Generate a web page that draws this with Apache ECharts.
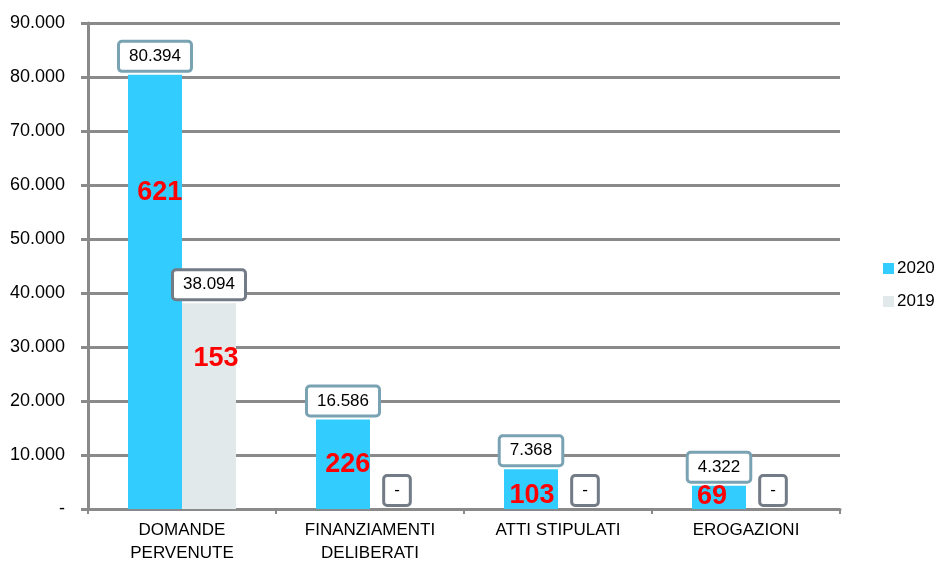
<!DOCTYPE html>
<html><head><meta charset="utf-8">
<script src="https://cdn.jsdelivr.net/npm/echarts@6/dist/echarts.min.js"></script>
<style>html,body{margin:0;padding:0;background:#fff}#c{width:937px;height:565px}</style>
</head><body><div id="c"></div>
<script>
// ---- data ----
const categories = ['DOMANDE\nPERVENUTE', 'FINANZIAMENTI\nDELIBERATI', 'ATTI STIPULATI', 'EROGAZIONI'];
const series2020 = [80394, 16586, 7368, 4322];
const series2019 = [38094, 0, 0, 0];
const counts2020 = [621, 226, 103, 69];
const counts2019 = [153, null, null, null];
const yTickLabels = ['-', '10.000', '20.000', '30.000', '40.000', '50.000', '60.000', '70.000', '80.000', '90.000'];
const legendNames = ['2020', '2019'];

// ---- styles ----
const FONT = '"Liberation Sans", Arial, sans-serif';
const C2020 = '#33CCFF', C2019 = '#E1E9EB';
const BORDER2020 = '#79A3B3', BORDER2019 = '#737B86';
const redPos2020 = [['59%', '27%'], ['59%', '50%'], ['52%', '65%'], ['37%', '45%']];
const redPos2019 = [['63%', '27%'], null, null, null];

function fmt(v) { return v === 0 ? '-' : String(v).replace(/\B(?=(\d{3})+(?!\d))/g, '.'); }

function boxLabel(border) {
  return {
    show: true, position: 'top', distance: 5,
    formatter: p => fmt(p.value),
    fontFamily: FONT, fontSize: 17, color: '#000', lineHeight: 19,
    backgroundColor: '#fff', borderColor: border, borderWidth: 3, borderRadius: 2,
    padding: [4, 9]
  };
}
function redData(vals, counts, pos) {
  return vals.map((v, i) => ({
    value: v,
    label: counts[i] == null ? { show: false } : {
      show: true, position: pos[i], align: 'center', verticalAlign: 'middle',
      formatter: String(counts[i]), color: '#FF0000', fontWeight: 'bold',
      fontSize: 27, fontFamily: FONT
    }
  }));
}

const chart = echarts.init(document.getElementById('c'), null, { renderer: 'canvas' });
chart.setOption({
  animation: false,
  backgroundColor: '#fff',
  grid: { left: 88, right: 97, top: 23, bottom: 49, containLabel: false },
  legend: {
    data: legendNames, orient: 'vertical', left: 883, top: 260, padding: 0,
    itemWidth: 11, itemHeight: 11, itemGap: 16, icon: 'rect',
    textStyle: { fontFamily: FONT, fontSize: 17, color: '#000', padding: [0, 0, 0, -2] }
  },
  xAxis: [{
    type: 'category', data: categories,
    axisLine: { lineStyle: { color: '#8A8A8A', width: 3 } },
    axisTick: { show: true, length: 5, lineStyle: { color: '#8A8A8A', width: 2 } },
    axisLabel: { fontFamily: FONT, fontSize: 17, color: '#000', lineHeight: 23, margin: 10, interval: 0 }
  }, {
    type: 'category', data: categories, show: false
  }],
  yAxis: {
    type: 'value', min: 0, max: 90000, interval: 10000,
    axisLine: { show: true, lineStyle: { color: '#8A8A8A', width: 3 } },
    axisTick: { show: true, length: 7, lineStyle: { color: '#8A8A8A', width: 3 } },
    splitLine: { lineStyle: { color: '#8A8A8A', width: 3 } },
    axisLabel: {
      fontFamily: FONT, fontSize: 18, color: '#000', margin: 23,
      formatter: v => yTickLabels[Math.round(v / 10000)]
    }
  },
  series: [
    { name: '2020', type: 'bar', data: series2020, barWidth: 54, barGap: '0%',
      itemStyle: { color: C2020 }, label: boxLabel(BORDER2020) },
    { name: '2019', type: 'bar', data: series2019, barWidth: 54, barGap: '0%',
      itemStyle: { color: C2019 }, label: boxLabel(BORDER2019) },
    { name: '2020c', type: 'bar', xAxisIndex: 1, barWidth: 54, barGap: '0%', z: 5,
      itemStyle: { color: 'rgba(0,0,0,0)' }, data: redData(series2020, counts2020, redPos2020) },
    { name: '2019c', type: 'bar', xAxisIndex: 1, barWidth: 54, barGap: '0%', z: 5,
      itemStyle: { color: 'rgba(0,0,0,0)' }, data: redData(series2019, counts2019, redPos2019) }
  ]
});
</script>
</body></html>
